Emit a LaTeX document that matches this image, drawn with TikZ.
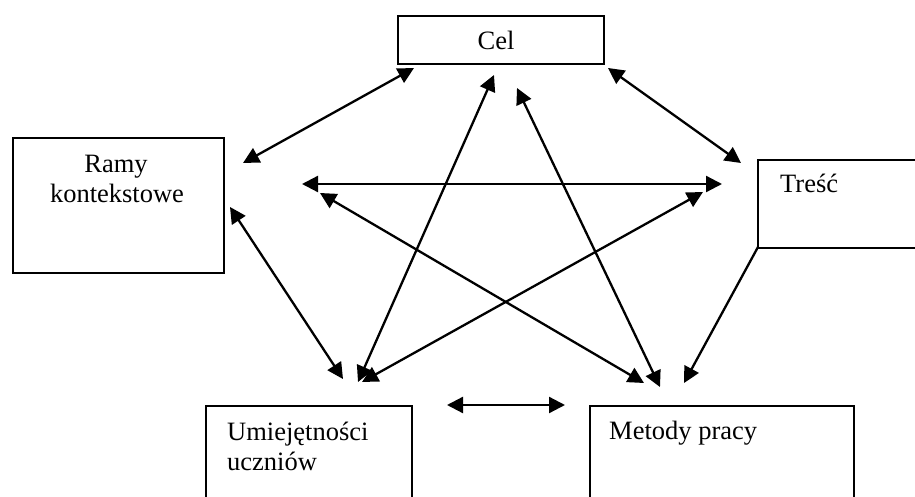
\documentclass[tikz,border=0pt]{standalone}
\usepackage{fontspec}
\setmainfont{Liberation Serif}
\usetikzlibrary{arrows.meta}
\begin{document}
\begin{tikzpicture}[x=1pt,y=-1pt,
  box/.style={draw,line width=1.9pt,inner sep=0pt,anchor=north west},
  txt/.style={inner sep=0pt,font=\fontsize{26.5}{30}\selectfont},
  link/.style={line width=2.3pt,{Triangle[length=16pt,width=16pt]}-{Triangle[length=16pt,width=16pt]}},
  onelink/.style={line width=2.3pt,-{Triangle[length=16pt,width=16pt]}}]
\useasboundingbox (0,0) rectangle (915,497);
\clip (0,0) rectangle (915,497);
% boxes
\node[box,minimum width=206pt,minimum height=48pt] (cel) at (397,15) {};
\node[box,minimum width=211pt,minimum height=135pt] (ramy) at (12,137) {};
\node[box,minimum width=180pt,minimum height=88pt] (tresc) at (757,159) {};
\node[box,minimum width=206pt,minimum height=120pt] (umi) at (205,405) {};
\node[box,minimum width=264pt,minimum height=120pt] (met) at (589,405) {};
% texts
\node[txt,anchor=base] (tcel) at (496,50) {Cel};
\node[txt,anchor=base] (tramy1) at (116,173) {Ramy};
\node[txt,anchor=base] (tramy2) at (117,203) {kontekstowe};
\node[txt,anchor=base west] (ttresc) at (780,193) {Treść};
\node[txt,anchor=base west] (tumi1) at (227,440) {Umiejętności};
\node[txt,anchor=base west] (tumi2) at (227,470) {uczniów};
\node[txt,anchor=base west] (tmet) at (609,439) {Metody pracy};
% arrow end points
\coordinate (a1s) at (414,68);  \coordinate (a1e) at (243,163);
\coordinate (a2s) at (608,68);  \coordinate (a2e) at (741,163);
\coordinate (a3s) at (302,184); \coordinate (a3e) at (722,184);
\coordinate (a4s) at (230,207); \coordinate (a4e) at (343,379);
\coordinate (a5s) at (494,75);  \coordinate (a5e) at (358,382);
\coordinate (a6s) at (703,192); \coordinate (a6e) at (362,382);
\coordinate (a7s) at (320,193); \coordinate (a7e) at (644,383);
\coordinate (a8s) at (517,88);  \coordinate (a8e) at (660,387);
\coordinate (a9s) at (758,247); \coordinate (a9e) at (684,383);
\coordinate (a10s) at (447,405); \coordinate (a10e) at (565,405);
% arrows
\draw[link] (a1s) -- (a1e);
\draw[link] (a2s) -- (a2e);
\draw[link] (a3s) -- (a3e);
\draw[link] (a4s) -- (a4e);
\draw[link] (a5s) -- (a5e);
\draw[link] (a6s) -- (a6e);
\draw[link] (a7s) -- (a7e);
\draw[link] (a8s) -- (a8e);
\draw[onelink] (a9s) -- (a9e);
\draw[link] (a10s) -- (a10e);
\end{tikzpicture}
\end{document}
